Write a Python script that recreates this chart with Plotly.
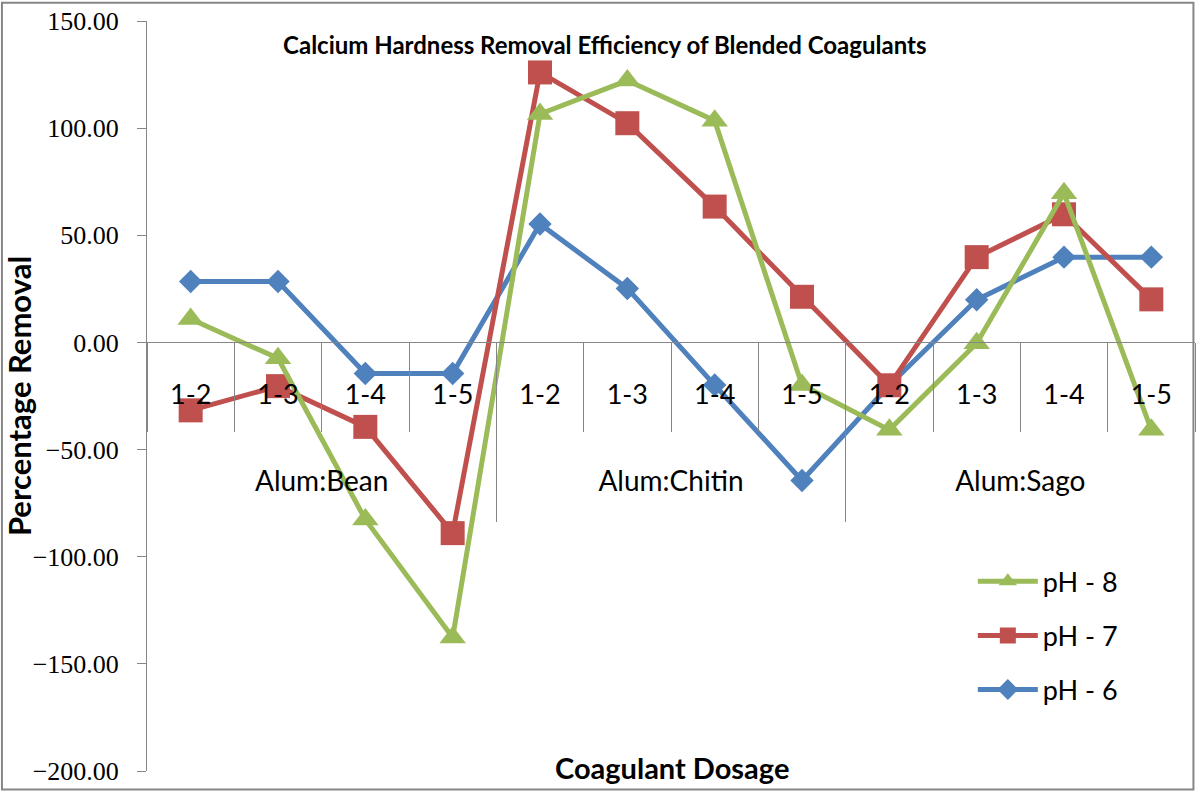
import plotly.graph_objects as go

groups = ["Alum:Bean", "Alum:Chitin", "Alum:Sago"]
doses = ["1-2", "1-3", "1-4", "1-5"]
keys = [g + " " + d for g in groups for d in doses]
tick_text = [d for g in groups for d in doses]
group_centres = [1.5, 5.5, 9.5]
group_bounds = [3.5, 7.5]

ph6 = [28.4, 28.4, -14.5, -14.5, 55.3, 25.2, -19.9, -64.4, -20.0, 19.9, 39.8, 39.8]
ph7 = [-31.7, -20.4, -39.4, -89.0, 126.0, 102.3, 63.4, 21.3, -20.0, 39.8, 59.8, 20.1]
ph8 = [10.9, -7.4, -82.6, -137.7, 106.6, 122.2, 103.5, -19.9, -40.8, -0.4, 69.6, -40.8]

y_ticks = [150, 100, 50, 0, -50, -100, -150, -200]

series = [
    ("pH - 6", ph6, "#4F81BD", "diamond", 18, 3),
    ("pH - 7", ph7, "#C0504D", "square", 24, 2),
    ("pH - 8", ph8, "#9BBB59", "triangle-up", 23, 1),
]

SANS = "Lato, 'Open Sans', sans-serif"
GREY = "#868686"

fig = go.Figure()
for name, vals, col, sym, sz, rank in series:
    fig.add_trace(go.Scatter(
        x=keys, y=vals, name=name, mode="lines+markers",
        line=dict(color=col, width=5),
        marker=dict(symbol=sym, size=sz, color=col, line=dict(width=0)),
        legendgroup=name, legendrank=rank,
    ))

# empty helper trace so the group-label axis is drawn
fig.add_trace(go.Scatter(x=[None], y=[None], xaxis="x2", yaxis="y",
                         showlegend=False, hoverinfo="skip", mode="markers"))

zero_pos = 200 / 350

fig.update_layout(
    width=1200, height=791,
    margin=dict(l=147, r=5, t=21, b=20, autoexpand=False),
    paper_bgcolor="white", plot_bgcolor="white",
    title=dict(text="<b>Calcium Hardness Removal Efficiency of Blended Coagulants</b>",
               x=0.504, xanchor="center", y=1 - 46 / 791, yanchor="middle",
               font=dict(family=SANS, size=24, color="black")),
    showlegend=True,
    legend=dict(x=0.788, y=0.285, xanchor="left", yanchor="top",
                traceorder="grouped", tracegroupgap=16,
                font=dict(family=SANS, size=27, color="black"),
                bgcolor="rgba(0,0,0,0)", itemwidth=60),
    xaxis=dict(
        type="category", categoryorder="array", categoryarray=keys,
        tickmode="array", tickvals=keys, ticktext=tick_text,
        anchor="free", position=zero_pos, side="bottom",
        showline=True, linecolor=GREY, linewidth=1,
        ticks="outside", tickson="boundaries", ticklen=89, tickcolor=GREY, tickwidth=1,
        ticklabelstandoff=28,
        tickfont=dict(family=SANS, size=27, color="black"),
        showgrid=False, zeroline=False, range=[-0.5, 11.5],
    ),
    xaxis2=dict(
        overlaying="x", anchor="free", position=zero_pos, side="bottom",
        range=[-0.5, 11.5], tickmode="array", tickvals=group_centres, ticktext=groups,
        ticks="", ticklabelstandoff=120,
        tickfont=dict(family=SANS, size=28, color="black"),
        showline=False, showgrid=False, zeroline=False,
        minor=dict(tickmode="array", tickvals=group_bounds, ticks="outside", ticklen=179,
                   tickcolor=GREY, tickwidth=1, showgrid=False),
    ),
    yaxis=dict(
        range=[-200, 150], tickmode="array", tickvals=y_ticks, tickformat=".2f",
        showline=True, linecolor=GREY, linewidth=1,
        ticks="outside", ticklen=9, tickcolor=GREY, tickwidth=1,
        ticklabelstandoff=13,
        tickfont=dict(family="'Liberation Serif', 'Times New Roman', serif", size=26, color="black"),
        showgrid=False, zeroline=False,
        title=dict(text="<b>Percentage Removal</b>", standoff=7,
                   font=dict(family=SANS, size=31, color="black")),
    ),
    annotations=[dict(text="<b>Coagulant Dosage</b>", xref="paper", yref="paper",
                      x=0.501, y=0.005, xanchor="center", yanchor="middle", showarrow=False,
                      font=dict(family=SANS, size=29, color="black"))],
    shapes=[dict(type="rect", xref="paper", yref="paper",
                 x0=-0.1384, x1=0.9985, y0=-0.0245, y1=1.0245,
                 line=dict(color=GREY, width=2), fillcolor="rgba(0,0,0,0)", layer="below")],
)

fig.write_html("out.html", config={"displayModeBar": False},
               post_script="document.body.style.margin='0';")
